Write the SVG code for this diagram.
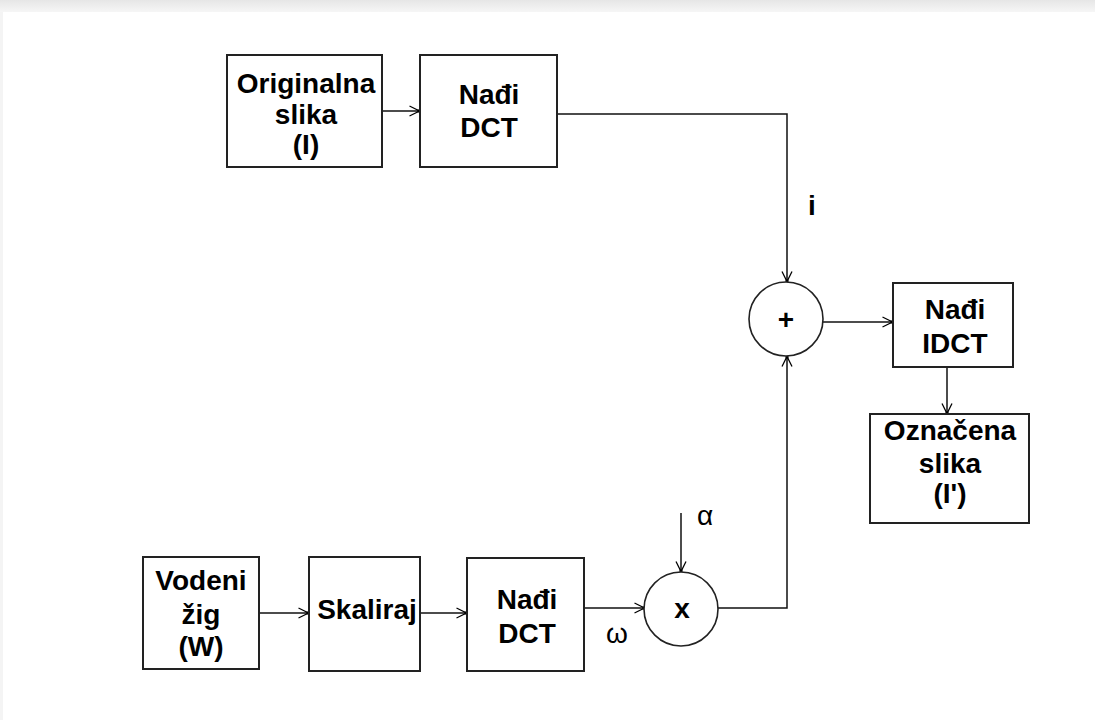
<svg xmlns="http://www.w3.org/2000/svg" width="1095" height="720" viewBox="0 0 1095 720">
<defs>
<linearGradient id="topg" x1="0" y1="0" x2="0" y2="1"><stop offset="0" stop-color="#e6e6e6"/><stop offset="1" stop-color="#f6f6f6"/></linearGradient>
<marker id="arr" viewBox="0 0 12 12" refX="11.5" refY="6" markerWidth="12" markerHeight="12" markerUnits="userSpaceOnUse" orient="auto">
<path d="M1,1 L11,6 L1,11" fill="none" stroke="#000" stroke-width="1.3"/>
<rect x="9" y="4.5" width="3" height="3" fill="#000"/>
</marker>
</defs>
<style>
.box{fill:#fff;stroke:#222;stroke-width:2}
.circ{fill:#fff;stroke:#222;stroke-width:1.6}
.t{font-family:"Liberation Sans",Arial,sans-serif;font-weight:bold;font-size:28px;fill:#000;text-anchor:middle}
.g{font-family:"Liberation Sans",Arial,sans-serif;font-size:28px;fill:#000;text-anchor:middle}
.c{fill:none;stroke:#111;stroke-width:1.5}
</style>
<rect x="0" y="0" width="1095" height="720" fill="#f4f4f4"/>
<rect x="0" y="0" width="1095" height="12" fill="url(#topg)"/>
<rect x="3" y="12" width="1092" height="708" fill="#fff"/>

<g id="connectors">
<path class="c" d="M382,111 H420" marker-end="url(#arr)"/>
<path class="c" d="M557,114 H787 V282" marker-end="url(#arr)"/>
<path class="c" d="M822,322 H893" marker-end="url(#arr)"/>
<path class="c" d="M947,367 V414" marker-end="url(#arr)"/>
<path class="c" d="M259,613 H309" marker-end="url(#arr)"/>
<path class="c" d="M420,613 H467" marker-end="url(#arr)"/>
<path class="c" d="M584,608 H645" marker-end="url(#arr)"/>
<path class="c" d="M681,513 V572" marker-end="url(#arr)"/>
<path class="c" d="M717,608 H787 V356" marker-end="url(#arr)"/>
</g>

<g id="original">
<rect class="box" x="227" y="55" width="155" height="112"/>
<text class="t" x="306" y="93">Originalna</text>
<text class="t" x="306" y="124">slika</text>
<text class="t" x="306" y="154">(I)</text>
</g>
<g id="dct1">
<rect class="box" x="420" y="55" width="137" height="112"/>
<text class="t" x="489" y="104">Nađi</text>
<text class="t" x="489" y="137">DCT</text>
</g>
<g id="sum">
<circle class="circ" cx="786" cy="319" r="37"/>
<text class="t" x="786" y="329">+</text>
</g>
<text id="label-i" class="t" x="812" y="215">i</text>
<g id="idct">
<rect class="box" x="893" y="283" width="120" height="84"/>
<text class="t" x="955" y="319">Nađi</text>
<text class="t" x="955" y="353">IDCT</text>
</g>
<g id="marked">
<rect class="box" x="870" y="414" width="159" height="109"/>
<text class="t" x="950" y="440">Označena</text>
<text class="t" x="950" y="473">slika</text>
<text class="t" x="950" y="503">(I')</text>
</g>
<g id="watermark">
<rect class="box" x="143" y="557" width="116" height="112"/>
<text class="t" x="201" y="590">Vodeni</text>
<text class="t" x="201" y="624">žig</text>
<text class="t" x="201" y="656">(W)</text>
</g>
<g id="scale">
<rect class="box" x="309" y="557" width="111" height="114"/>
<text class="t" x="367" y="619">Skaliraj</text>
</g>
<g id="dct2">
<rect class="box" x="467" y="558" width="117" height="113"/>
<text class="t" x="527" y="609">Nađi</text>
<text class="t" x="527" y="643">DCT</text>
</g>
<g id="mult">
<circle class="circ" cx="681" cy="609" r="37"/>
<text class="t" x="682" y="618">x</text>
</g>
<text id="label-alpha" class="g" x="705" y="525">α</text>
<text id="label-omega" class="g" x="617" y="643">ω</text>
</svg>
